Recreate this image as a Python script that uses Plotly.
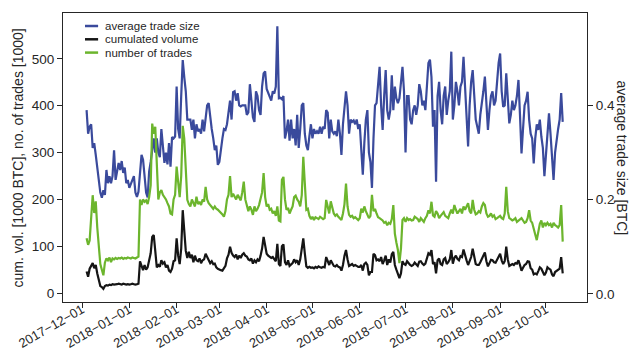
import pandas as pd
import plotly.graph_objects as go

# daily values, 2017-12-04 .. 2018-10-12
# number of trades [1000]
trades_dec = [117, 103, 112, 160, 209, 171, 196, 140, 100, 62, 50, 38, 65, 74, 70, 76, 66, 74, 72, 75, 73, 75, 74, 76, 73, 75, 74, 76]
trades_jan = [75, 74, 76, 75, 74, 76, 78, 200, 188, 200, 195, 198, 190, 205, 230, 362, 340, 355, 265, 200, 215, 220, 210, 205, 200, 192, 185, 170, 168, 200, 210]
trades_feb = [270, 230, 205, 250, 357, 330, 250, 199, 190, 185, 200, 190, 185, 206, 190, 195, 188, 200, 195, 227, 200, 192, 188, 182, 180, 185, 180, 178]
trades_mar = [175, 170, 168, 163, 175, 200, 210, 250, 205, 212, 205, 200, 210, 205, 198, 215, 238, 200, 190, 175, 185, 178, 167, 185, 175, 180, 188, 200, 215, 256, 205]
trades_apr = [185, 190, 178, 180, 170, 175, 165, 185, 155, 153, 242, 248, 200, 178, 182, 170, 178, 185, 205, 208, 200, 195, 185, 209, 291, 245, 178, 180, 165, 158]
trades_may = [163, 156, 162, 160, 158, 163, 160, 158, 160, 199, 185, 170, 196, 185, 170, 165, 168, 163, 160, 156, 170, 190, 234, 185, 167, 163, 165, 160, 162, 158, 156]
trades_jun = [160, 180, 172, 185, 175, 168, 160, 165, 210, 175, 180, 170, 162, 160, 158, 155, 150, 152, 145, 150, 148, 158, 188, 127, 108, 92, 64, 95, 156, 160]
trades_jul = [152, 160, 156, 158, 155, 156, 163, 160, 158, 152, 160, 156, 152, 160, 165, 177, 170, 195, 166, 163, 175, 170, 160, 165, 170, 173, 165, 163, 160, 170, 178]
trades_aug = [170, 188, 178, 170, 175, 180, 170, 185, 178, 186, 192, 175, 170, 199, 178, 168, 170, 175, 172, 185, 192, 188, 170, 163, 165, 170, 163, 166, 158, 160, 163]
trades_sep = [165, 160, 158, 170, 227, 175, 160, 158, 155, 157, 160, 152, 155, 158, 160, 155, 150, 152, 160, 177, 155, 150, 140, 125, 113, 135, 148, 155, 140, 150]
trades_oct = [145, 150, 145, 148, 140, 150, 145, 143, 140, 145, 188, 110]

# cumulated volume [1000 BTC]
volume_dec = [46, 35, 52, 60, 64, 53, 60, 42, 24, 15, 13, 9, 15, 17, 16, 18, 17, 19, 18, 18, 19, 20, 19, 18, 20, 19, 18, 19]
volume_jan = [18, 19, 20, 19, 18, 19, 20, 68, 58, 49, 60, 50, 55, 75, 85, 120, 124, 90, 55, 60, 56, 70, 63, 66, 55, 60, 48, 45, 52, 68, 70]
volume_feb = [117, 80, 62, 95, 177, 135, 90, 75, 88, 75, 82, 66, 80, 70, 68, 74, 64, 70, 72, 84, 78, 70, 64, 68, 62, 63, 55, 52]
volume_mar = [50, 49, 48, 52, 58, 74, 82, 99, 86, 80, 77, 82, 72, 80, 75, 82, 85, 80, 78, 72, 70, 74, 63, 70, 66, 72, 68, 80, 95, 120, 97]
volume_apr = [84, 80, 78, 75, 77, 72, 68, 105, 62, 58, 100, 104, 66, 60, 70, 58, 62, 64, 72, 66, 70, 60, 72, 90, 117, 85, 57, 54, 56, 54]
volume_may = [55, 53, 56, 54, 57, 55, 54, 56, 55, 77, 70, 60, 70, 62, 58, 57, 60, 56, 55, 48, 60, 80, 92, 72, 58, 60, 62, 58, 60, 58, 56]
volume_jun = [56, 60, 48, 62, 65, 60, 38, 45, 45, 84, 81, 70, 72, 68, 77, 62, 70, 80, 60, 72, 65, 83, 88, 60, 50, 40, 32, 42, 68, 62]
volume_jul = [60, 68, 63, 60, 58, 60, 65, 62, 58, 67, 68, 63, 60, 63, 72, 85, 82, 92, 62, 66, 42, 70, 74, 62, 60, 72, 75, 62, 66, 72, 92]
volume_aug = [63, 75, 80, 73, 70, 79, 77, 93, 78, 70, 60, 70, 77, 95, 75, 62, 60, 60, 66, 74, 83, 87, 68, 57, 64, 71, 70, 66, 65, 72, 80]
volume_sep = [84, 70, 62, 68, 99, 72, 58, 60, 62, 60, 64, 63, 70, 60, 48, 54, 60, 62, 68, 67, 53, 50, 40, 42, 40, 47, 55, 52, 46, 38]
volume_oct = [44, 55, 52, 50, 40, 36, 45, 48, 50, 52, 77, 42]

# average trade size [BTC]
size_dec = [0.39, 0.34, 0.355, 0.36, 0.31, 0.32, 0.295, 0.27, 0.235, 0.215, 0.204, 0.22, 0.21, 0.263, 0.235, 0.25, 0.235, 0.25, 0.305, 0.242, 0.26, 0.278, 0.263, 0.282, 0.257, 0.268, 0.235, 0.242]
size_jan = [0.225, 0.233, 0.24, 0.25, 0.215, 0.206, 0.217, 0.26, 0.295, 0.285, 0.25, 0.215, 0.205, 0.26, 0.28, 0.31, 0.33, 0.30, 0.33, 0.30, 0.29, 0.35, 0.312, 0.278, 0.30, 0.275, 0.32, 0.27, 0.333, 0.33, 0.334]
size_feb = [0.44, 0.35, 0.33, 0.42, 0.496, 0.46, 0.43, 0.37, 0.37, 0.37, 0.348, 0.37, 0.33, 0.36, 0.345, 0.35, 0.34, 0.37, 0.345, 0.38, 0.40, 0.405, 0.37, 0.35, 0.33, 0.305, 0.315, 0.274]
size_mar = [0.28, 0.31, 0.33, 0.35, 0.348, 0.36, 0.384, 0.41, 0.37, 0.428, 0.43, 0.41, 0.426, 0.40, 0.398, 0.40, 0.40, 0.40, 0.38, 0.385, 0.445, 0.40, 0.375, 0.365, 0.43, 0.42, 0.39, 0.38, 0.44, 0.468, 0.472]
size_apr = [0.435, 0.425, 0.418, 0.41, 0.43, 0.425, 0.44, 0.568, 0.415, 0.416, 0.413, 0.42, 0.33, 0.345, 0.37, 0.325, 0.37, 0.33, 0.35, 0.315, 0.38, 0.31, 0.35, 0.40, 0.405, 0.34, 0.315, 0.305, 0.335, 0.36]
size_may = [0.33, 0.35, 0.34, 0.345, 0.34, 0.355, 0.34, 0.355, 0.35, 0.39, 0.385, 0.33, 0.37, 0.345, 0.34, 0.345, 0.335, 0.37, 0.34, 0.295, 0.36, 0.39, 0.43, 0.40, 0.34, 0.37, 0.365, 0.368, 0.36, 0.37, 0.35]
size_jun = [0.36, 0.30, 0.253, 0.32, 0.37, 0.39, 0.30, 0.28, 0.225, 0.33, 0.40, 0.405, 0.44, 0.482, 0.40, 0.348, 0.42, 0.475, 0.39, 0.37, 0.39, 0.464, 0.39, 0.44, 0.415, 0.405, 0.415, 0.45, 0.482, 0.43]
size_jul = [0.30, 0.42, 0.42, 0.37, 0.36, 0.39, 0.40, 0.38, 0.40, 0.445, 0.43, 0.40, 0.41, 0.39, 0.45, 0.49, 0.497, 0.46, 0.355, 0.39, 0.238, 0.42, 0.45, 0.39, 0.36, 0.42, 0.44, 0.38, 0.41, 0.43, 0.514]
size_aug = [0.37, 0.40, 0.45, 0.43, 0.40, 0.44, 0.45, 0.503, 0.44, 0.38, 0.313, 0.40, 0.45, 0.475, 0.42, 0.37, 0.355, 0.34, 0.38, 0.40, 0.43, 0.461, 0.40, 0.348, 0.39, 0.42, 0.43, 0.40, 0.41, 0.45, 0.49]
size_sep = [0.51, 0.43, 0.397, 0.40, 0.468, 0.40, 0.362, 0.38, 0.41, 0.39, 0.40, 0.42, 0.454, 0.38, 0.298, 0.35, 0.40, 0.41, 0.429, 0.37, 0.34, 0.33, 0.277, 0.33, 0.36, 0.348, 0.37, 0.334, 0.31, 0.25]
size_oct = [0.30, 0.35, 0.383, 0.34, 0.28, 0.242, 0.30, 0.33, 0.35, 0.37, 0.426, 0.365]

tick_dates = ['2017-12-01', '2018-01-01', '2018-02-01', '2018-03-01', '2018-04-01', '2018-05-01',
              '2018-06-01', '2018-07-01', '2018-08-01', '2018-09-01', '2018-10-01']

trades = (trades_dec + trades_jan + trades_feb + trades_mar + trades_apr + trades_may
          + trades_jun + trades_jul + trades_aug + trades_sep + trades_oct)
volume = (volume_dec + volume_jan + volume_feb + volume_mar + volume_apr + volume_may
          + volume_jun + volume_jul + volume_aug + volume_sep + volume_oct)
size = (size_dec + size_jan + size_feb + size_mar + size_apr + size_may
        + size_jun + size_jul + size_aug + size_sep + size_oct)
dates = pd.date_range('2017-12-04', periods=len(trades), freq='D')

BLUE = '#3a4a9c'
BLACK = '#151515'
GREEN = '#6cb52d'
TXT = '#262626'
FONT = 'Liberation Sans, Arial, sans-serif'

series = [
    ('average trade size', size, 'y', BLUE),
    ('cumulated volume', volume, 'y2', BLACK),
    ('number of trades', trades, 'y2', GREEN),
]

fig = go.Figure()
for name, vals, ax, col in series:
    fig.add_trace(go.Scatter(x=dates, y=vals, name=name, yaxis=ax, mode='lines',
                             line=dict(color=col, width=2.2), showlegend=False))

# hand-made legend (short line samples, tight spacing)
shapes, annotations = [], []
for i, (name, vals, ax, col) in enumerate(series):
    yy = 0.955 - i * 0.046
    shapes.append(dict(type='line', xref='paper', yref='paper', x0=0.042, x1=0.067,
                       y0=yy, y1=yy, line=dict(color=col, width=2.5)))
    annotations.append(dict(text=name, xref='paper', yref='paper', x=0.076, y=yy,
                            xanchor='left', yanchor='middle', showarrow=False,
                            font=dict(family=FONT, size=11.5, color=TXT)))

annotations += [
    dict(text='cum. vol. [1000 BTC], no. of trades [1000]', xref='paper', yref='paper',
         x=-0.086, y=0.5, xanchor='center', yanchor='middle', textangle=-90, showarrow=False,
         font=dict(family=FONT, size=14, color=TXT)),
    dict(text='average trade size [BTC]', xref='paper', yref='paper',
         x=1.067, y=0.5, xanchor='center', yanchor='middle', textangle=90, showarrow=False,
         font=dict(family=FONT, size=14, color=TXT)),
]

axis_common = dict(showline=True, linecolor=TXT, linewidth=1.2, ticks='outside', ticklen=5,
                   tickwidth=1.2, tickcolor=TXT, showgrid=False, zeroline=False, automargin=False)

fig.update_layout(
    width=631, height=354,
    margin=dict(l=63, r=44, t=13, b=52),
    paper_bgcolor='white', plot_bgcolor='white',
    font=dict(family=FONT, color=TXT),
    showlegend=False,
    xaxis=dict(range=['2017-11-18 13:00', '2018-10-27 22:00'], mirror=True,
               tickvals=tick_dates, ticktext=[t.replace('-', '\u2212') for t in tick_dates],
               tickangle=-30, ticklabelstandoff=-11,
               tickfont=dict(family=FONT, size=13, color=TXT), **axis_common),
    yaxis=dict(side='right', range=[-0.017, 0.596], tickvals=[0.0, 0.2, 0.4],
               tickformat='.1f', tickfont=dict(family=FONT, size=13.5, color=TXT), **axis_common),
    yaxis2=dict(side='left', overlaying='y', range=[-19, 598],
                tickvals=[0, 100, 200, 300, 400, 500],
                tickfont=dict(family=FONT, size=13.5, color=TXT), **axis_common),
    shapes=shapes,
    annotations=annotations,
)

# drop the default page margin so the figure sits at the top-left corner
fig.write_html("out.html", config={'displayModeBar': False},
               post_script="document.body.style.margin='0px';")
